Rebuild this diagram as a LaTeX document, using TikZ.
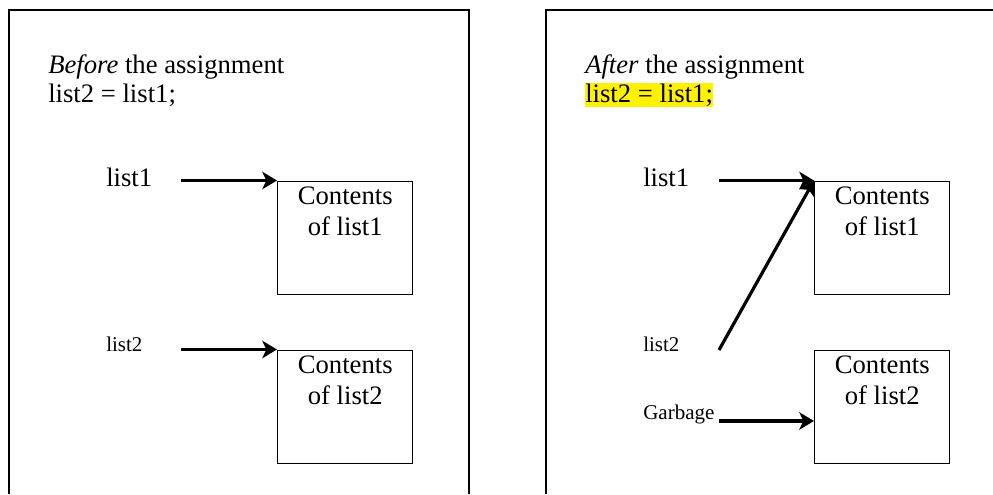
\documentclass[tikz,border=0pt]{standalone}
\usepackage{fontspec}
\setmainfont{Liberation Serif}
\usepackage{tikz}
\usetikzlibrary{arrows.meta, positioning}

\begin{document}
\begin{tikzpicture}[x=0.75pt,y=0.75pt,yscale=-1,xscale=1,
  frame/.style={line width=1.5pt},
  membox/.style={draw, line width=1.1pt, minimum width=101.25pt, minimum height=84.75pt, inner sep=0pt, anchor=north west},
  ptr/.style={line width=2.4pt, -{Stealth[length=11pt,width=13pt,inset=3pt]}},
  big/.style={font=\fontsize{20}{24}\selectfont, inner sep=0pt, anchor=base west},
  small/.style={font=\fontsize{15.75}{19}\selectfont, inner sep=0pt, anchor=base west},
  boxtxt/.style={font=\fontsize{20}{24}\selectfont, inner sep=0pt, anchor=base}]
\useasboundingbox (0,0) rectangle (993,494);

%Frames
\draw [frame] (9,494) -- (9,10) -- (469,10) -- (469,494) ;
\draw [frame] (546,494) -- (546,10) -- (993,10) ;

%% left half
% Text Node
\node [big] (before) at (48,73) {\textit{Before} the assignment};
\node [big] (stmtA) at (48,102) {list2 = list1;};
% Text Node
\node [big] (aOne) at (106,186) {list1};
\node [small] (aTwo) at (106,351) {list2};
% Shape: Rectangle
\node [membox] (aBoxOne) at (277,180.5) {};
\node [membox] (aBoxTwo) at (277,349.5) {};
\node [boxtxt] at ([yshift=18pt]aBoxOne.north) {Contents};
\node [boxtxt] at ([yshift=41.25pt]aBoxOne.north) {of list1};
\node [boxtxt] at ([yshift=18pt]aBoxTwo.north) {Contents};
\node [boxtxt] at ([yshift=41.25pt]aBoxTwo.north) {of list2};
%Straight Lines
\coordinate (aOneStart) at (181,180.5);
\coordinate (aTwoStart) at (181,349.5);
\draw [ptr] (aOneStart) -- (aBoxOne.north west) ;
\draw [ptr] (aTwoStart) -- (aBoxTwo.north west) ;

%% right half
% Text Node
\node [big] (after) at (585,73) {\textit{After} the assignment};
\node [big, fill=yellow, inner ysep=0.5pt] (stmtB) at (585,102) {list2 = list1;};
% Text Node
\node [big] (bOne) at (643,186) {list1};
\node [small] (bTwo) at (643,351) {list2};
\node [small] (garbage) at (643,419) {Garbage};
% Shape: Rectangle
\node [membox] (bBoxOne) at (814,180.5) {};
\node [membox] (bBoxTwo) at (814,349.5) {};
\node [boxtxt] at ([yshift=18pt]bBoxOne.north) {Contents};
\node [boxtxt] at ([yshift=41.25pt]bBoxOne.north) {of list1};
\node [boxtxt] at ([yshift=18pt]bBoxTwo.north) {Contents};
\node [boxtxt] at ([yshift=41.25pt]bBoxTwo.north) {of list2};
%Straight Lines
\coordinate (bOneStart) at (719,180.5);
\coordinate (bTwoStart) at (719,350);
\coordinate (gStart) at (719,421);
\draw [ptr] (bOneStart) -- (bBoxOne.north west) ;
\draw [ptr] (bTwoStart) -- (bBoxOne.north west) ;
\draw [ptr] (gStart) -- (gStart -| bBoxTwo.west) ;

\end{tikzpicture}
\end{document}
